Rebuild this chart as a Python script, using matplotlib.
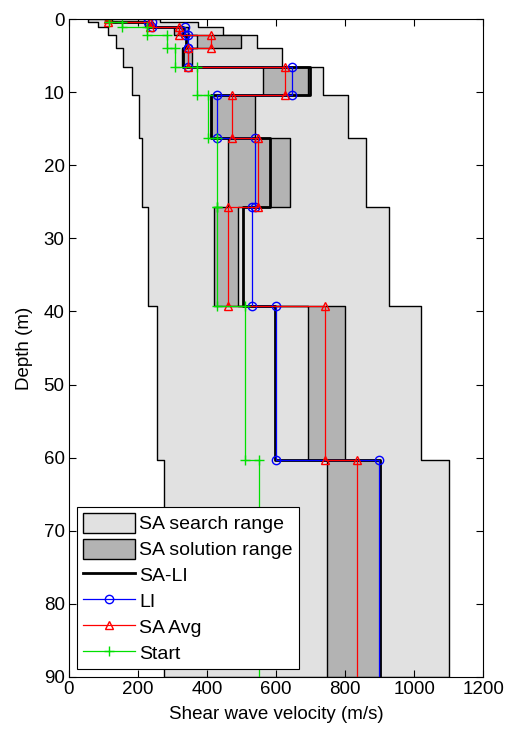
import matplotlib.pyplot as plt
import numpy as np

plt.rcParams['font.family'] = ['Liberation Sans', 'DejaVu Sans']

# layer interfaces (m)
interfaces = [0, 0.4, 1.1, 2.2, 3.9, 6.5, 10.4, 16.3, 25.7, 39.3, 60.3, 90]

# SA search range per layer (m/s)
search_min = [56, 85, 114, 138, 158, 182, 203, 212, 230, 254, 276]
search_max = [265, 375, 446, 544, 616, 735, 808, 860, 926, 1019, 1101]

# SA solution range per layer
sol_min = [105, 220, 305, 370, 327, 561, 411, 462, 420, 694, 747]
sol_max = [125, 245, 345, 500, 356, 694, 539, 641, 491, 800, 901]

# profiles
sa_li = [110, 230, 330, 340, 330, 697, 411, 583, 503, 597, 900]
li = [230, 240, 335, 345, 345, 645, 428, 540, 529, 600, 897]
sa_avg = [113, 235, 320, 413, 345, 626, 473, 548, 462, 742, 834]
start = [115, 155, 225, 285, 307, 370, 404, 428, 430, 510, 552]


def step(vals):
    d = np.repeat(interfaces, 2)[1:-1]
    v = np.repeat(vals, 2)
    return v, d


fig = plt.figure(figsize=(5.06, 7.33), dpi=100)
ax = fig.add_axes([0.136, 0.0764, 0.819, 0.8976])

v1, d = step(search_min)
v2, _ = step(search_max)
ax.fill_betweenx(d, v1, v2, facecolor='#e1e1e1', edgecolor='black', linewidth=1.0,
                 label='SA search range')
v1, d = step(sol_min)
v2, _ = step(sol_max)
ax.fill_betweenx(d, v1, v2, facecolor='#b3b3b3', edgecolor='black', linewidth=1.0,
                 label='SA solution range')

mk = slice(0, -1)
v, d = step(sa_li)
ax.plot(v, d, color='black', lw=2, label='SA-LI')
v, d = step(li)
ax.plot(v, d, color='blue', lw=0.9, marker='o', ms=6, mfc='none', markevery=mk, label='LI')
v, d = step(sa_avg)
ax.plot(v, d, color='red', lw=0.9, marker='^', ms=6, mfc='none', markevery=mk, label='SA Avg')
v, d = step(start)
ax.plot(v, d, color='#00e000', lw=0.9, marker='+', ms=7, markevery=mk, label='Start')

ax.set_xlim(0, 1200)
ax.set_ylim(90, 0)
ax.set_xticks(range(0, 1201, 200))
ax.set_yticks(range(0, 91, 10))
ax.tick_params(direction='in', top=True, right=True, labelsize=13.5, length=5, width=0.8, pad=3)
ax.set_xlabel('Shear wave velocity (m/s)', fontsize=13.5, labelpad=6)
ax.set_ylabel('Depth (m)', fontsize=13.5, labelpad=8)

leg = ax.legend(loc='lower left', bbox_to_anchor=(0.02, 0.012), fontsize=14,
                fancybox=False, framealpha=1, edgecolor='black',
                handlelength=2.7, handleheight=1.2, labelspacing=0.28,
                handletextpad=0.2, borderpad=0.3, borderaxespad=0)
leg.get_frame().set_linewidth(0.8)

fig.savefig('out.png', dpi=100)
